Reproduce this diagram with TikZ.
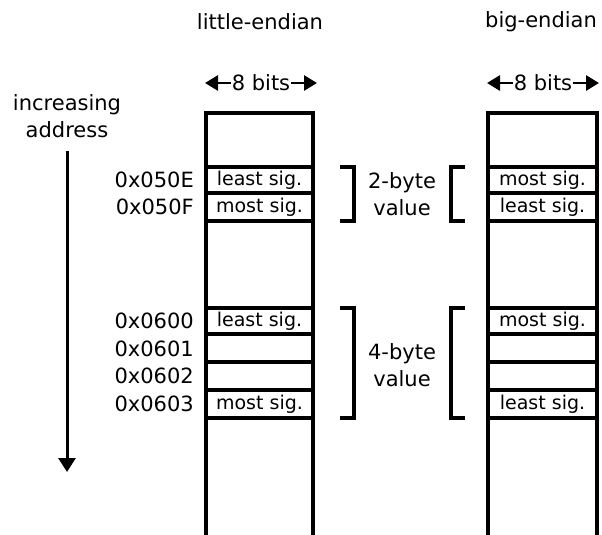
\documentclass[tikz,border=0pt]{standalone}
\usepackage{fontspec}
\setmainfont{DejaVu Sans}
\usepackage{tikz}
\usetikzlibrary{arrows.meta,positioning}

\tikzset{
  txt/.style={font=\fontsize{21}{27}\selectfont, inner sep=1pt},
  celltxt/.style={font=\fontsize{19}{23}\selectfont, inner sep=1pt},
  memline/.style={line width=3.2pt},
  brk/.style={line width=3.2pt, line cap=butt},
  widtharrow/.style={-{Triangle[width=15pt,length=13pt]}, line width=2.8pt}
}

\begin{document}
\begin{tikzpicture}[x=1pt,y=-1pt]
\useasboundingbox (0,0) rectangle (602,535);
% Titles
\node[txt] (tlittle) at (260,22) {little-endian};
\node[txt] (tbig) at (541,22) {big-endian};
% Width markers
\node[txt] (bitsL) at (261,83) {8 bits};
\coordinate (bitsLw) at (205,83);
\coordinate (bitsLe) at (317,83);
\draw[widtharrow] (bitsL.west) -- (bitsLw);
\draw[widtharrow] (bitsL.east) -- (bitsLe);
\node[txt] (bitsR) at (543,83) {8 bits};
\coordinate (bitsRw) at (487,83);
\coordinate (bitsRe) at (599,83);
\draw[widtharrow] (bitsR.west) -- (bitsRw);
\draw[widtharrow] (bitsR.east) -- (bitsRe);
% Increasing address
\node[txt, align=center] (incr) at (67,116) {increasing\\address};
\coordinate (incrend) at (67,472);
\draw[-{Triangle[width=17pt,length=14pt]}, line width=3pt] (67,151) -- (incrend);
% Memory columns
\draw[memline] (206,535) -- (206,113) -- (313,113) -- (313,535);
\draw[memline] (488,535) -- (488,113) -- (597,113) -- (597,535);
\foreach \y in {167,193,221,308,334,362,390,418} {
  \draw[memline] (206,\y) -- (313,\y);
  \draw[memline] (488,\y) -- (597,\y);
}
% Cell contents
\node[celltxt] (l1) at (259.5,180) {least sig.};
\node[celltxt] (l2) at (259.5,207) {most sig.};
\node[celltxt] (l3) at (259.5,321) {least sig.};
\node[celltxt] (l4) at (259.5,404) {most sig.};
\node[celltxt] (b1) at (542.5,180) {most sig.};
\node[celltxt] (b2) at (542.5,207) {least sig.};
\node[celltxt] (b3) at (542.5,321) {most sig.};
\node[celltxt] (b4) at (542.5,404) {least sig.};
% Addresses
\foreach \a/\y in {0x050E/180, 0x050F/207, 0x0600/321, 0x0601/349, 0x0602/376, 0x0603/404} {
  \node[txt, anchor=east] at (195,\y) {\a};
}
% Brackets
\draw[brk] (340,167) -- (354,167) -- (354,221) -- (340,221);
\draw[brk] (465,167) -- (451,167) -- (451,221) -- (465,221);
\draw[brk] (340,308) -- (354,308) -- (354,418) -- (340,418);
\draw[brk] (465,308) -- (451,308) -- (451,418) -- (465,418);
\node[txt, align=center] (two) at (402,194) {2-byte\\value};
\node[txt, align=center] (four) at (402,365) {4-byte\\value};
\end{tikzpicture}
\end{document}
